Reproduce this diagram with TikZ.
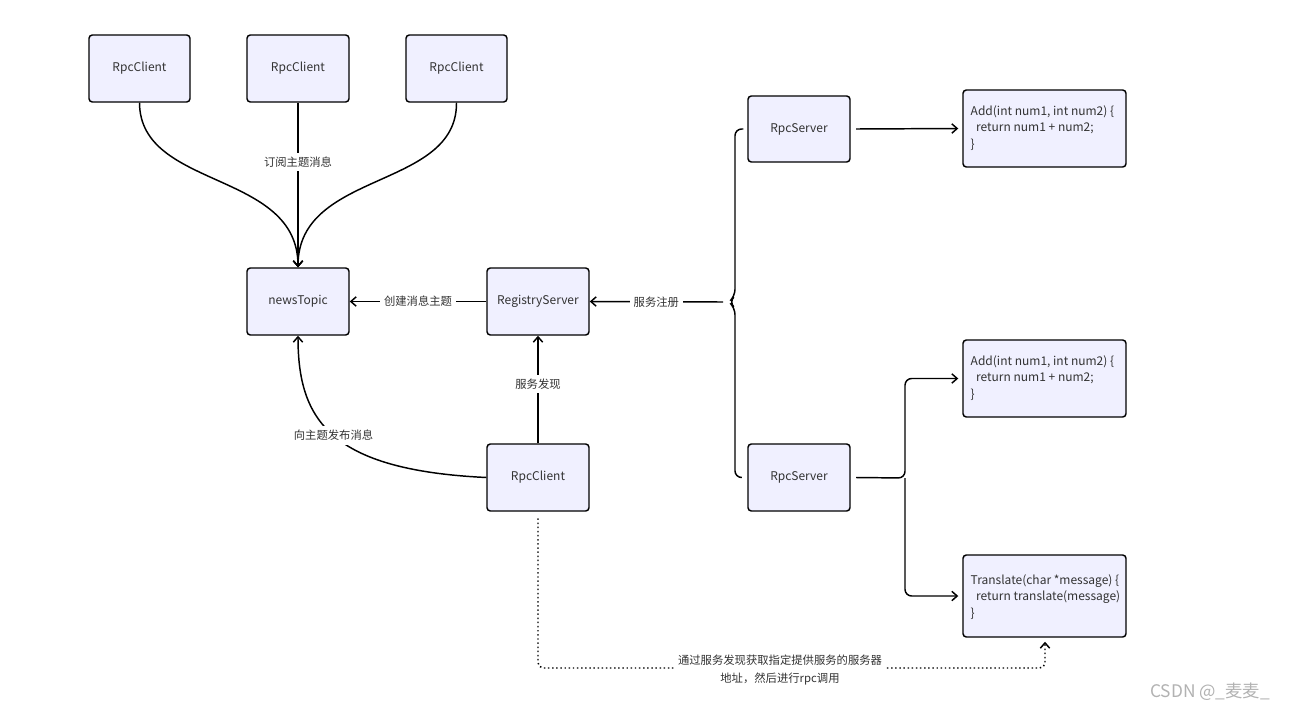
\documentclass[tikz,border=0pt]{standalone}
\usepackage{fontspec}
\setmainfont{Noto Sans CJK SC}
\usetikzlibrary{arrows.meta}
\begin{document}
\begin{tikzpicture}[x=0.75pt,y=-0.75pt,
  box/.style={draw=black,line width=1.1pt,rounded corners=2.5pt,fill=blue!6,font=\fontsize{9}{11}\selectfont,text=black!80},
  conn/.style={line width=1.1pt,-{Straight Barb[length=4pt,width=7pt]}},
  lab/.style={fill=white,font=\fontsize{8.5}{12}\selectfont,text=black!80,inner sep=3pt}]
\useasboundingbox[fill=white] (0,0) rectangle (1295,714);
\newcommand\bx[6]{\node[box,minimum width={(#4-#2)*0.75pt},minimum height={(#5-#3)*0.75pt},inner sep=0pt] (#1) at ({(#2+#4)/2},{(#3+#5)/2}) {#6};}
\bx{c1}{89}{35}{190}{102}{RpcClient}
\bx{c2}{247}{35}{349}{102}{RpcClient}
\bx{c3}{406}{35}{507}{102}{RpcClient}
\bx{nt}{247}{268}{349}{335}{newsTopic}
\bx{rs}{487}{268}{589}{335}{RegistryServer}
\bx{cb}{487}{444}{589}{511}{RpcClient}
\bx{s1}{748}{96}{850}{162}{RpcServer}
\bx{s2}{748}{444}{850}{511}{RpcServer}
\bx{a1}{963}{90}{1126}{167}{}
\bx{a2}{963}{340}{1126}{417}{}
\bx{tr}{963}{555}{1126}{637}{}
\node[anchor=west,align=left,font=\fontsize{9}{12.5}\selectfont,text=black!80] (a1t) at (966,128) {Add(int num1, int num2) \{\\\ \ return num1 + num2;\\\}};
\node[anchor=west,align=left,font=\fontsize{9}{12.5}\selectfont,text=black!80] (a2t) at (966,378) {Add(int num1, int num2) \{\\\ \ return num1 + num2;\\\}};
\node[anchor=west,align=left,font=\fontsize{9}{12.5}\selectfont,text=black!80] (trt) at (966,597) {Translate(char *message) \{\\\ \ return translate(message)\\\}};
% top clients
\draw[conn] (c1.south) .. controls (140,190) and (298,170) .. (nt.north);
\draw[conn] (c3.south) .. controls (457,190) and (298,170) .. (nt.north);
\draw[conn] (c2.south) -- node[lab,pos=0.36]{订阅主题消息} (nt.north);
\draw[conn] (rs.west) -- node[lab]{创建消息主题} (nt.east);
\draw[conn] (cb.north) -- node[lab,pos=0.55]{服务发现} (rs.north |- rs.south);
\draw[conn] (cb.west) .. controls (330,470) and (298,420) .. node[lab,pos=0.5]{向主题发布消息} (nt.south);
% bracket
\coordinate (bt) at (723,302);
\draw[line width=1.1pt,rounded corners=5pt] (s1.west) ++(-4,0) -| (735,296) -- (729,302) -- (735,308) |- ([xshift=-4pt]s2.west);
\draw[conn] (bt) -- node[lab]{服务注册} (rs.east);
\draw[conn] ([xshift=4pt]s1.east) -- ([xshift=-3pt]a1.west);
\draw[conn,rounded corners=5pt] ([xshift=4pt]s2.east) -- (905,478) |- ([xshift=-3pt]a2.west);
\draw[conn,rounded corners=5pt] (905,478) |- ([xshift=-3pt]tr.west);
% dotted
\draw[line width=1.1pt,dotted,rounded corners=4pt,-{Straight Barb[length=4pt,width=7pt]}] ([yshift=-5pt]cb.south) |- (1045,668) -- ([yshift=-3pt]tr.south -| 1045,637);
\node[lab,align=center,font=\fontsize{8.5}{13}\selectfont] (dl) at (780,670) {通过服务发现获取指定提供服务的服务器\\地址，然后进行rpc调用};
\node[font=\fontsize{13}{14}\selectfont,text=black!30] (wm) at (1210,692) {CSDN @\_麦麦\_};
\end{tikzpicture}
\end{document}
